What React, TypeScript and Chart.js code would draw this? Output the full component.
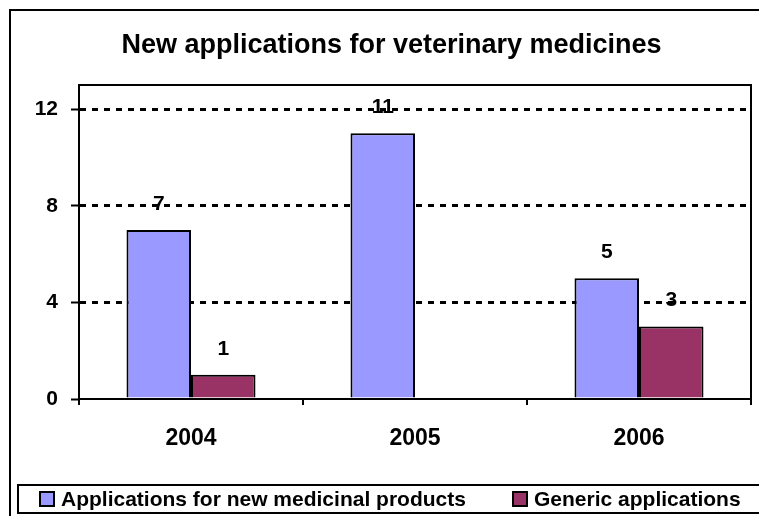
import React, { useEffect, useRef } from "react";
import { Chart, registerables } from "chart.js";

Chart.register(...registerables);

const titleText = "New applications for veterinary medicines";
const categories = ["2004", "2005", "2006"];
const seriesNames = ["Applications for new medicinal products", "Generic applications"];
const newProducts = [7, 11, 5];
const generic: (number | null)[] = [1, null, 3];
const seriesColors = ["#9999FF", "#993366"];
const yTickValues = [0, 4, 8, 12];

const FONT = "'Liberation Sans', Arial, sans-serif";

const titleShiftPlugin = {
  id: "titleShift",
  afterLayout(chart: any) {
    if (chart.titleBlock) chart.titleBlock.left += 22;
  },
};

const framePlugin = {
  id: "frame",
  afterDraw(chart: any) {
    const ctx = chart.ctx;
    const ca = chart.chartArea;
    ctx.save();
    ctx.strokeStyle = "#000";
    ctx.lineWidth = 2;
    // outer frame (cropped at right/bottom)
    ctx.strokeRect(10, 10, 800, 600);
    // plot area border
    ctx.strokeRect(ca.left, ca.top, ca.right - ca.left, ca.bottom - ca.top);
    // legend box
    ctx.strokeRect(18, 485, 800, 28);
    ctx.font = `bold 21px ${FONT}`;
    ctx.textBaseline = "middle";
    ctx.textAlign = "left";
    const xs = [40, 513];
    chart.data.datasets.forEach((ds: any, i: number) => {
      const x = xs[i];
      ctx.fillStyle = ds.backgroundColor;
      ctx.fillRect(x, 492, 14, 14);
      ctx.lineWidth = 2;
      ctx.strokeRect(x, 492, 14, 14);
      ctx.fillStyle = "#000";
      ctx.fillText(ds.label, x + 21, 500);
    });
    ctx.restore();
  },
};

const valueLabelPlugin = {
  id: "valueLabels",
  afterDatasetsDraw(chart: any) {
    const ctx = chart.ctx;
    ctx.save();
    ctx.font = `bold 21px ${FONT}`;
    ctx.fillStyle = "#000";
    ctx.textAlign = "center";
    ctx.textBaseline = "middle";
    chart.data.datasets.forEach((ds: any, di: number) => {
      const meta = chart.getDatasetMeta(di);
      meta.data.forEach((el: any, i: number) => {
        const v = ds.data[i];
        if (v === null || v === undefined) return;
        ctx.fillText(String(v), el.x, el.y - 26);
      });
    });
    ctx.restore();
  },
};

export default function App() {
  const ref = useRef<HTMLCanvasElement>(null);
  useEffect(() => {
    if (!ref.current) return;
    const chart = new Chart(ref.current, {
      type: "bar",
      data: {
        labels: categories,
        datasets: [
          {
            label: seriesNames[0],
            data: newProducts,
            backgroundColor: seriesColors[0],
            borderColor: "#000",
            borderWidth: 2,
            borderSkipped: "bottom",
          },
          {
            label: seriesNames[1],
            data: generic,
            backgroundColor: seriesColors[1],
            borderColor: "#000",
            borderWidth: 2,
            borderSkipped: "bottom",
          },
        ],
      },
      options: {
        animation: false,
        responsive: true,
        maintainAspectRatio: false,
        datasets: { bar: { categoryPercentage: 0.576, barPercentage: 1 } },
        layout: { padding: { top: 10, left: 10, right: 8, bottom: 0 } },
        plugins: {
          legend: { display: false },
          tooltip: { enabled: false },
          title: {
            display: true,
            text: titleText,
            color: "#000",
            font: { family: FONT, size: 27, weight: "bold" },
            padding: { top: 19, bottom: 23.6 },
          },
        },
        scales: {
          x: {
            afterFit: (s: any) => {
              s.height = 117;
            },
            grid: {
              display: true,
              drawOnChartArea: false,
              drawTicks: true,
              tickLength: 6,
              tickColor: "#000",
              tickWidth: 2,
              color: "#000",
              lineWidth: 2,
              offset: true,
            },
            border: { display: true, color: "#000", width: 2 },
            ticks: {
              color: "#000",
              font: { family: FONT, size: 23, weight: "bold" },
              padding: 20,
            },
          },
          y: {
            min: 0,
            max: 13,
            afterFit: (s: any) => {
              s.width = 69;
            },
            afterBuildTicks: (s: any) => {
              s.ticks = yTickValues.map((v) => ({ value: v }));
            },
            grid: {
              color: (c: any) => (c.tick && c.tick.value === 0 ? "rgba(0,0,0,0)" : "#000"),
              lineWidth: 3,
              drawTicks: true,
              tickLength: 8,
              tickColor: "#000",
              tickWidth: 2,
            },
            border: { display: true, color: "#000", width: 2, dash: [6, 6] },
            ticks: {
              color: "#000",
              font: { family: FONT, size: 21, weight: "bold" },
              padding: 13,
            },
          },
        },
      },
      plugins: [titleShiftPlugin, valueLabelPlugin, framePlugin],
    });
    return () => chart.destroy();
  }, []);
  return (
    <div style={{ position: "absolute", left: 0, top: 0, width: 759, height: 516 }}>
      <canvas ref={ref} />
    </div>
  );
}
